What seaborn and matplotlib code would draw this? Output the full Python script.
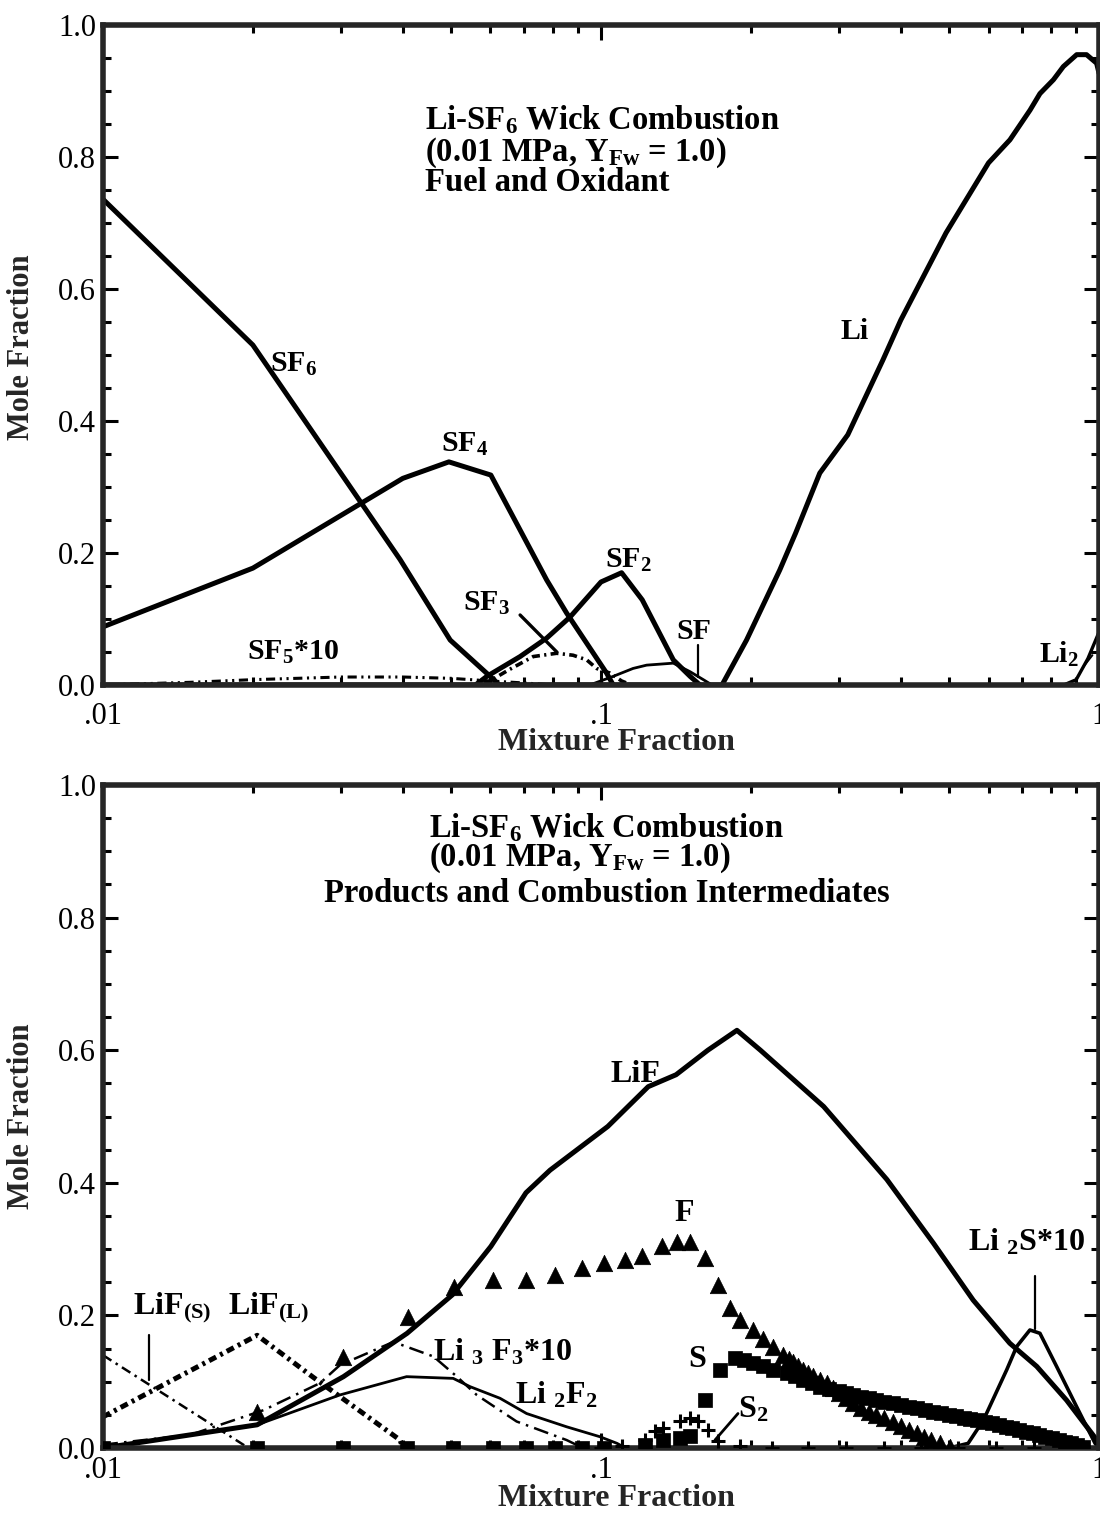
import matplotlib
matplotlib.use("Agg")
import matplotlib.pyplot as plt
import matplotlib.ticker as mticker
import seaborn as sns

# ---- top panel: fuel and oxidant ----
sf6_x = [0.01, 0.02, 0.0395, 0.0498, 0.0599, 0.0625]
sf6_y = [0.736, 0.515, 0.19, 0.068, 0.013, 0.0]

sf4_x = [0.01, 0.02, 0.040, 0.0495, 0.0601, 0.0778, 0.0853, 0.1026, 0.1058]
sf4_y = [0.088, 0.177, 0.313, 0.338, 0.318, 0.159, 0.109, 0.018, 0.0]

sf2_x = [0.056, 0.059, 0.0688, 0.0778, 0.0867, 0.1, 0.11, 0.121, 0.1397, 0.151, 0.158]
sf2_y = [0.0, 0.013, 0.043, 0.071, 0.103, 0.156, 0.17, 0.129, 0.038, 0.013, 0.0]

sf_x = [0.095, 0.1058, 0.116, 0.1235, 0.1397, 0.151, 0.1605, 0.167]
sf_y = [0.0, 0.013, 0.025, 0.030, 0.033, 0.020, 0.008, 0.0]

sf3_x = [0.058, 0.065, 0.0731, 0.0815, 0.0879, 0.0936, 0.098, 0.1042, 0.11, 0.115]
sf3_y = [0.0, 0.022, 0.043, 0.048, 0.045, 0.038, 0.025, 0.018, 0.006, 0.0]

sf5_x = [0.01, 0.015, 0.02, 0.03, 0.04, 0.05, 0.06, 0.07, 0.08]
sf5_y = [0.0, 0.004, 0.008, 0.012, 0.012, 0.010, 0.006, 0.003, 0.0]

li_x = [0.01, 0.175, 0.196, 0.2285, 0.2459, 0.275, 0.313, 0.368, 0.40, 0.493,
        0.60, 0.6625, 0.727, 0.761, 0.81, 0.848, 0.902, 0.944, 0.989, 1.0]
li_y = [0.0, 0.0, 0.068, 0.174, 0.23, 0.321, 0.379, 0.492, 0.553, 0.685,
        0.791, 0.826, 0.871, 0.896, 0.917, 0.937, 0.955, 0.955, 0.942, 0.927]

li2_x = [0.85, 0.9, 0.95, 1.0]
li2_y = [0.0, 0.008, 0.04, 0.08]

# ---- bottom panel: products and intermediates ----
lif_x = [0.01, 0.0204, 0.0304, 0.0408, 0.0503, 0.0601, 0.0707, 0.079, 0.1032, 0.1244,
         0.1415, 0.1639, 0.1875, 0.209, 0.28, 0.375, 0.465, 0.559, 0.662, 0.75,
         0.861, 0.99, 1.0]
lif_y = [0.0, 0.035, 0.1076, 0.173, 0.231, 0.304, 0.385, 0.419, 0.485, 0.545,
         0.563, 0.600, 0.630, 0.600, 0.515, 0.405, 0.309, 0.223, 0.158, 0.123,
         0.072, 0.012, 0.0]

li2f2_x = [0.01, 0.0204, 0.0299, 0.0407, 0.0505, 0.0546, 0.0627, 0.0709, 0.0853, 0.0995, 0.1077, 0.112]
li2f2_y = [0.0, 0.035, 0.08, 0.1076, 0.105, 0.0925, 0.075, 0.052, 0.032, 0.017, 0.007, 0.0]

li3f3_x = [0.01, 0.015, 0.021, 0.0273, 0.0299, 0.0383, 0.0461, 0.0513, 0.0563, 0.0677, 0.0853, 0.092]
li3f3_y = [0.005, 0.02, 0.057, 0.098, 0.125, 0.16, 0.138, 0.108, 0.08, 0.04, 0.012, 0.0]

lifs_x = [0.01, 0.0196]
lifs_y = [0.14, 0.0]

lifl_x = [0.01, 0.0204, 0.0264, 0.0395, 0.040]
lifl_y = [0.047, 0.170, 0.107, 0.012, 0.0]

li2s_x = [0.5, 0.546, 0.586, 0.6527, 0.6834, 0.7265, 0.761, 0.822, 0.902, 0.982, 1.0]
li2s_y = [0.0, 0.007, 0.042, 0.118, 0.153, 0.178, 0.173, 0.123, 0.062, 0.007, 0.0]

f_x = [0.0204, 0.0304, 0.041, 0.0508, 0.0606, 0.0707, 0.081, 0.0914, 0.1016, 0.1117,
       0.1207, 0.1324, 0.1419, 0.1509, 0.1617, 0.172, 0.1816, 0.1901, 0.2022, 0.2118,
       0.2218, 0.2323, 0.238, 0.2433, 0.249, 0.2547, 0.2607, 0.2667, 0.275, 0.2838,
       0.292, 0.30, 0.31, 0.321, 0.333, 0.345, 0.357, 0.37, 0.385, 0.40,
       0.415, 0.4305, 0.445, 0.46, 0.48, 0.5013]
f_y = [0.055, 0.138, 0.198, 0.243, 0.253, 0.253, 0.261, 0.271, 0.279, 0.284,
       0.289, 0.304, 0.311, 0.311, 0.286, 0.246, 0.211, 0.193, 0.178, 0.165,
       0.153, 0.140, 0.134, 0.129, 0.123, 0.118, 0.113, 0.108, 0.103, 0.0975,
       0.090, 0.083, 0.075, 0.068, 0.061, 0.055, 0.050, 0.045, 0.039, 0.033,
       0.027, 0.022, 0.017, 0.012, 0.007, 0.002]

s_x = [0.01, 0.0204, 0.0304, 0.0408, 0.0505, 0.0606, 0.0707, 0.081, 0.0914, 0.1016,
       0.1226, 0.1334, 0.1441, 0.151, 0.1617, 0.1734, 0.1858, 0.194, 0.2022, 0.2118,
       0.2218, 0.236, 0.245, 0.2547, 0.265, 0.2754, 0.287, 0.30, 0.31, 0.32,
       0.332, 0.345, 0.357, 0.37, 0.385, 0.40, 0.415, 0.4305, 0.447, 0.465,
       0.482, 0.50, 0.517, 0.535, 0.55, 0.568, 0.59, 0.61, 0.63, 0.65,
       0.67, 0.69, 0.712, 0.737, 0.757, 0.78, 0.805, 0.83, 0.855, 0.88,
       0.905, 0.929]
s_y = [0.0, 0.0, 0.0, 0.0, 0.0, 0.0, 0.0, 0.0, 0.0, 0.0,
       0.005, 0.012, 0.015, 0.018, 0.072, 0.118, 0.135, 0.132, 0.128, 0.123,
       0.118, 0.1127, 0.108, 0.103, 0.098, 0.0925, 0.089, 0.086, 0.083, 0.080,
       0.0775, 0.075, 0.0725, 0.070, 0.0675, 0.065, 0.0625, 0.060, 0.0575, 0.055,
       0.0525, 0.050, 0.048, 0.046, 0.044, 0.042, 0.0395, 0.037, 0.0345, 0.032,
       0.0295, 0.027, 0.0245, 0.022, 0.0195, 0.017, 0.0145, 0.012, 0.0095, 0.007,
       0.0045, 0.002]

s2_x = [0.1, 0.11, 0.1226, 0.1284, 0.1334, 0.1441, 0.151, 0.1568, 0.1642, 0.172, 0.19,
        0.22, 0.26, 0.31, 0.37, 0.44, 0.52, 0.62, 0.74, 0.88]
s2_y = [0.0, 0.003, 0.012, 0.025, 0.030, 0.040, 0.045, 0.040, 0.027, 0.010, 0.003,
        0.0, 0.0, 0.0, 0.0, 0.0, 0.0, 0.0, 0.0, 0.0]

XTICKS = [0.01, 0.1, 1]
XTICK_LABELS = [".01", ".1", "1"]
YTICKS = [0.0, 0.2, 0.4, 0.6, 0.8, 1.0]

sns.set_style("ticks")
plt.rcParams["font.family"] = ["Liberation Serif", "DejaVu Serif"]
plt.rcParams["mathtext.fontset"] = "custom"
plt.rcParams["mathtext.bf"] = "Liberation Serif:bold"
plt.rcParams["mathtext.rm"] = "Liberation Serif:bold"
plt.rcParams["mathtext.it"] = "Liberation Serif:bold:italic"
plt.rcParams["mathtext.default"] = "bf"

TOP_LBL = dict(fontsize=21.5, fontweight="bold", color="black")
BOT_LBL = dict(fontsize=23, fontweight="bold", color="black")
TITLE = dict(fontsize=23.5, fontweight="bold", color="black")


def line(ax, x, y, lw, ls="-"):
    sns.lineplot(x=x, y=y, ax=ax, color="black", linewidth=lw, sort=False,
                 estimator=None)
    ax.lines[-1].set_linestyle(ls)
    ax.lines[-1].set_solid_joinstyle("round")


def style_axes(ax, xpad, xlabel_y, ylabel_y):
    ax.set_xscale("log")
    ax.set_xlim(0.01, 1)
    ax.set_ylim(0, 1)
    ax.set_xticks(XTICKS)
    ax.set_xticklabels(XTICK_LABELS)
    ax.xaxis.set_minor_locator(mticker.LogLocator(base=10, subs=range(2, 10)))
    ax.xaxis.set_minor_formatter(mticker.NullFormatter())
    ax.set_yticks(YTICKS)
    ax.set_yticklabels([f"{v:.1f}" for v in YTICKS])
    ax.yaxis.set_minor_locator(mticker.MultipleLocator(0.05))
    for s in ax.spines.values():
        s.set_visible(True)
        s.set_linewidth(4)
    ax.tick_params(which="both", direction="in", top=True, right=True,
                   width=2.2, colors="black", labelsize=22)
    ax.tick_params(which="major", length=11)
    ax.tick_params(which="minor", length=6)
    ax.tick_params(axis="x", pad=xpad)
    ax.tick_params(axis="y", pad=5)
    ax.set_xlabel("Mixture Fraction", fontsize=23, fontweight="bold")
    ax.set_ylabel("Mole Fraction", fontsize=22, fontweight="bold")
    ax.xaxis.set_label_coords(0.516, xlabel_y)
    ax.yaxis.set_label_coords(-0.067, ylabel_y)


fig = plt.figure(figsize=(11, 15.13), dpi=100)
ax1 = fig.add_axes([0.0936, 0.5473, 0.9055, 0.4362])
ax2 = fig.add_axes([0.0936, 0.04296, 0.9055, 0.4382])

# top panel
line(ax1, sf6_x, sf6_y, 3.6)
line(ax1, sf4_x, sf4_y, 3.6)
line(ax1, sf2_x, sf2_y, 3.6)
line(ax1, sf_x, sf_y, 2.0)
line(ax1, sf3_x, sf3_y, 2.6, (0, (2.2, 1.2, 0.6, 1.2)))
line(ax1, sf5_x, sf5_y, 2.2, (0, (3, 1.5, 0.7, 1.5, 0.7, 1.5)))
line(ax1, li_x, li_y, 3.6)
line(ax1, li2_x, li2_y, 2.4)
style_axes(ax1, 12, -0.066, 0.512)

ax1.text(0.323, 0.856, "Li-SF$_6$ Wick Combustion", transform=ax1.transAxes,
         ha="left", va="center", **TITLE)
ax1.text(0.323, 0.806, "(0.01 MPa, Y$_{Fw}$ = 1.0)", transform=ax1.transAxes,
         ha="left", va="center", **TITLE)
ax1.text(0.323, 0.761, "Fuel and Oxidant", transform=ax1.transAxes,
         ha="left", va="center", **TITLE)

ax1.text(0.0216, 0.485, "SF$_6$", ha="left", va="center", **TOP_LBL)
ax1.text(0.0477, 0.364, "SF$_4$", ha="left", va="center", **TOP_LBL)
ax1.text(0.102, 0.188, "SF$_2$", ha="left", va="center", **TOP_LBL)
ax1.text(0.0529, 0.124, "SF$_3$", ha="left", va="center", **TOP_LBL)
ax1.text(0.1419, 0.081, "SF", ha="left", va="center", **TOP_LBL)
ax1.text(0.0195, 0.05, "SF$_5$*10", ha="left", va="center", **TOP_LBL)
ax1.text(0.303, 0.536, "Li", ha="left", va="center", **TOP_LBL)
ax1.text(0.758, 0.047, "Li$_2$", ha="left", va="center", **TOP_LBL)
ax1.plot([0.0688, 0.0815], [0.106, 0.05], color="black", lw=2.4)
ax1.plot([0.1568, 0.1568], [0.061, 0.0126], color="black", lw=1.6)
ax1.plot([0.929, 0.97], [0.027, 0.045], color="black", lw=1.4)

# bottom panel
line(ax2, lif_x, lif_y, 3.6)
line(ax2, li2f2_x, li2f2_y, 2.0)
line(ax2, li3f3_x, li3f3_y, 1.8, (0, (6, 2.5, 1, 2.5)))
line(ax2, lifs_x, lifs_y, 1.8, (0, (4, 2, 1, 2)))
line(ax2, lifl_x, lifl_y, 3.6, (0, (1.6, 0.9, 0.6, 0.9)))
line(ax2, li2s_x, li2s_y, 2.6)
sns.scatterplot(x=f_x, y=f_y, ax=ax2, marker="^", s=140, color="black",
                edgecolor="black", linewidth=0.5, zorder=3)
sns.scatterplot(x=s_x, y=s_y, ax=ax2, marker="s", s=110, color="black",
                edgecolor="black", linewidth=0.5, zorder=3)
sns.scatterplot(x=s2_x, y=s2_y, ax=ax2, marker="+", s=110, color="black",
                linewidth=2.2, zorder=3)
style_axes(ax2, 6, -0.054, 0.5)

ax2.text(0.327, 0.936, "Li-SF$_6$ Wick Combustion", transform=ax2.transAxes,
         ha="left", va="center", **TITLE)
ax2.text(0.327, 0.89, "(0.01 MPa, Y$_{Fw}$ = 1.0)", transform=ax2.transAxes,
         ha="left", va="center", **TITLE)
ax2.text(0.506, 0.836, "Products and Combustion Intermediates", transform=ax2.transAxes,
         ha="center", va="center", **TITLE)

ax2.text(0.1047, 0.563, "LiF", ha="left", va="center", **BOT_LBL)
ax2.text(0.1405, 0.354, "F", ha="left", va="center", **BOT_LBL)
ax2.text(0.1495, 0.133, "S", ha="left", va="center", **BOT_LBL)
ax2.text(0.1884, 0.057, "S$_2$", ha="left", va="center", **BOT_LBL)
ax2.text(0.546, 0.311, "Li $_2$S*10", ha="left", va="center", **BOT_LBL)
ax2.text(0.01149, 0.211, "LiF$_{(S)}$", ha="left", va="center", **BOT_LBL)
ax2.text(0.01783, 0.211, "LiF$_{(L)}$", ha="left", va="center", **BOT_LBL)
ax2.text(0.046, 0.145, "Li $_3$ F$_3$*10", ha="left", va="center", **BOT_LBL)
ax2.text(0.0672, 0.08, "Li $_2$F$_2$", ha="left", va="center", **BOT_LBL)
ax2.plot([0.01239, 0.01239], [0.170, 0.1026], color="black", lw=1.6)
ax2.plot([0.7437, 0.7437], [0.259, 0.18], color="black", lw=1.6)
ax2.plot([0.1884, 0.1694], [0.052, 0.012], color="black", lw=2.0)

fig.savefig("out.png", dpi=100)
